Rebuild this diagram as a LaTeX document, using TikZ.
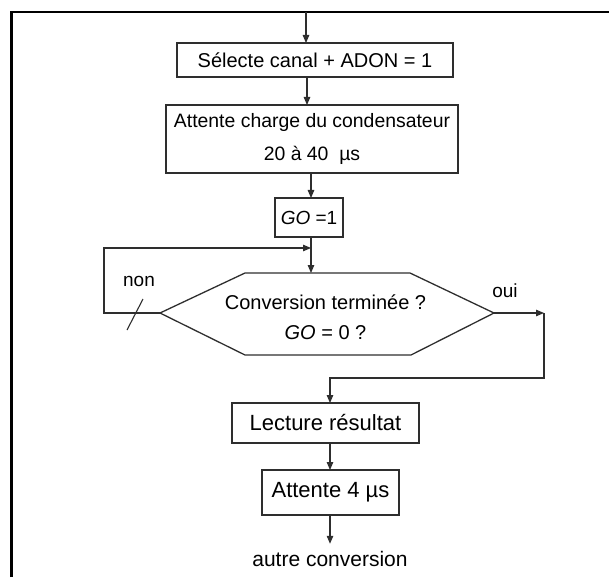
\documentclass[tikz,border=0pt]{standalone}
\usepackage{fontspec}
\setmainfont{Liberation Sans}
\usetikzlibrary{arrows.meta}
\definecolor{ink}{HTML}{2E2E2E}
\newcommand{\fs}[2]{\fontsize{#1}{#2}\selectfont}
\begin{document}
\begin{tikzpicture}[x=1pt,y=-1pt,
  box/.style={draw=ink, line width=1.3pt, inner sep=0pt, outer sep=0pt, text=black},
  shapeline/.style={draw=ink, line width=1.3pt, line join=miter},
  flow/.style={draw=ink, line width=1.1pt, -{Triangle[length=8pt,width=6.5pt]}},
  link/.style={draw=ink, line width=1.1pt},
  lbl/.style={inner sep=0pt, outer sep=0pt, text=black},
]
\useasboundingbox (0,0) rectangle (609,577);

% outer frame (top and left sides)
\draw[line width=2.3pt, black] (11.5,577) -- (11.5,12) -- (609,12);

% process boxes
\node[box, minimum width=276pt, minimum height=34pt, font=\fs{20}{24}]
  (sel) at (315,60) {Sélecte canal + ADON = 1};
\node[box, minimum width=292pt, minimum height=68pt, align=center, font=\fs{19.4}{33}]
  (wait) at (312,139) {Attente charge du condensateur\\20 à 40~ µs};
\node[box, minimum width=68pt, minimum height=39pt, font=\fs{19}{23}]
  (go) at (309,217.5) {\textit{GO} =1};

% decision hexagon
\coordinate (decW) at (160,313);
\coordinate (decE) at (494,313);
\coordinate (decN) at (311,273);
\draw[shapeline] (decW) -- (245,273) -- (410,273) -- (decE) -- (411,355) -- (245,355) -- cycle;
\node[lbl, align=center, font=\fs{20}{30}] (dec) at (325.5,317)
  {Conversion terminée ?\\\textit{GO} = 0 ?};

\node[box, minimum width=187pt, minimum height=40pt, font=\fs{22}{26}]
  (lect) at (325.5,423) {Lecture résultat};
\node[box, minimum width=137pt, minimum height=45pt, font=\fs{22}{26}]
  (att) at (330.5,492.5) {Attente 4 µs};
\node[lbl, anchor=base, outer sep=7pt, font=\fs{21}{25}]
  (out) at (330,566) {autre conversion};

% branch labels
\node[lbl, font=\fs{19}{23}] (non) at (139,281) {non};
\node[lbl, font=\fs{19}{23}] (oui) at (505,291) {oui};

% vertical guides for the connectors
\coordinate (in) at (306,12);
\coordinate (c1) at (307,0);
\coordinate (c2) at (311,0);
\coordinate (c3) at (330,378);
\coordinate (join) at (311,248);
\coordinate (turn) at (544,313);

% main flow
\draw[flow] (in) -- (in |- sel.north);
\draw[flow] (sel.south -| c1) -- (wait.north -| c1);
\draw[flow] (wait.south -| c2) -- (go.north -| c2);
\draw[flow] (go.south -| c2) -- (decN);

% "non" loop back above the test
\draw[flow] (decW) -- ++(-56,0) |- (join);
\draw[link] (143,299) -- (127,330);

% "oui" exit
\draw[flow] (decE) -- (turn);
\draw[flow] (turn) |- (c3) -- (c3 |- lect.north);
\draw[flow] (lect.south -| c3) -- (att.north -| c3);
\draw[flow] (att.south -| c3) -- (out.north -| c3);
\end{tikzpicture}
\end{document}
